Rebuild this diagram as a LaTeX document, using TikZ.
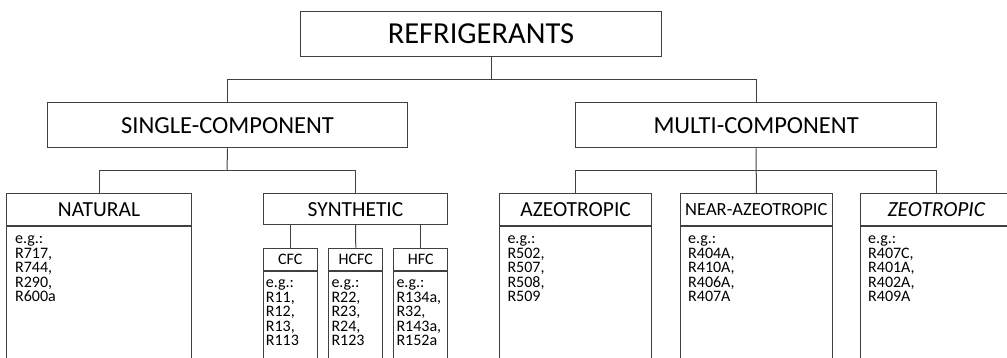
\documentclass[tikz,border=0pt]{standalone}
\usepackage{fontspec}
\setmainfont{Carlito}
\usetikzlibrary{positioning}
\definecolor{linegrey}{rgb}{0.25,0.25,0.25}
\tikzset{
  box/.style={draw=linegrey, line width=1pt, inner sep=0pt, anchor=north west},
  link/.style={draw=linegrey, line width=1pt},
  listtext/.style={anchor=north west, inner sep=0pt, align=left, font=\fontsize{16}{14.5}\selectfont},
  head/.style={box, minimum width=151.7pt, minimum height=31.7pt, font=\fontsize{21.5}{22}\selectfont},
  subhead/.style={box, minimum width=54pt, minimum height=22.3pt, font=\fontsize{16}{16}\selectfont},
}

\begin{document}
\begin{tikzpicture}[x=1pt,y=-1pt]

\path[use as bounding box, clip] (0,0) rectangle (1007,357);
% top
\node [box, minimum width=361pt, minimum height=45.3pt, font=\fontsize{30.5}{31}\selectfont] (root) at (300,10.7) {REFRIGERANTS};
% second row
\node [box, minimum width=360.6pt, minimum height=45pt, font=\fontsize{24.5}{25}\selectfont] (single) at (46.7,102.3) {SINGLE-COMPONENT};
\node [box, minimum width=360.6pt, minimum height=45pt, font=\fontsize{24.5}{25}\selectfont] (multi) at (575.3,102.3) {MULTI-COMPONENT};
% third row
\node [head, minimum width=185pt] (nat) at (6,193.3) {NATURAL};
\node [head, minimum width=184.6pt, minimum height=30.7pt] (syn) at (262.7,193.3) {SYNTHETIC};
\node [head] (azeo) at (499.3,193.3) {AZEOTROPIC};
\node [head, font=\fontsize{18.5}{19}\selectfont] (near) at (680,193.3) {NEAR-AZEOTROPIC};
\node [head, font=\fontsize{21.5}{22}\selectfont\itshape] (zeo) at (860,193.3) {ZEOTROPIC};
% bodies
\node [box, minimum width=185pt, minimum height=150pt, below=0pt of nat] (natbody) {};
\node [box, minimum width=151.7pt, minimum height=150pt, below=0pt of azeo] (azeobody) {};
\node [box, minimum width=151.7pt, minimum height=150pt, below=0pt of near] (nearbody) {};
\node [box, minimum width=151.7pt, minimum height=150pt, below=0pt of zeo] (zeobody) {};
\node [listtext] (natlist) at ([xshift=9pt,yshift=-10pt]natbody.north west) {e.g.:\\R717,\\R744,\\R290,\\R600a};
\node [listtext] (azeolist) at ([xshift=8pt,yshift=-10pt]azeobody.north west) {e.g.:\\R502,\\R507,\\R508,\\R509};
\node [listtext] (nearlist) at ([xshift=8pt,yshift=-10pt]nearbody.north west) {e.g.:\\R404A,\\R410A,\\R406A,\\R407A};
\node [listtext] (zeolist) at ([xshift=8pt,yshift=-10pt]zeobody.north west) {e.g.:\\R407C,\\R401A,\\R402A,\\R409A};
% synthetic groups
\node [subhead] (cfc) at (262.7,247.7) {CFC};
\node [subhead] (hcfc) at (328.3,247.7) {HCFC};
\node [subhead] (hfc) at (393.3,247.7) {HFC};
\node [box, minimum width=54pt, minimum height=120pt, below=0pt of cfc] (cfcbody) {};
\node [box, minimum width=54pt, minimum height=120pt, below=0pt of hcfc] (hcfcbody) {};
\node [box, minimum width=54pt, minimum height=120pt, below=0pt of hfc] (hfcbody) {};
\node [listtext] (cfclist) at ([xshift=3pt,yshift=-9pt]cfcbody.north west) {e.g.:\\R11,\\R12,\\R13,\\R113};
\node [listtext] (hcfclist) at ([xshift=3pt,yshift=-9pt]hcfcbody.north west) {e.g.:\\R22,\\R23,\\R24,\\R123};
\node [listtext] (hfclist) at ([xshift=3pt,yshift=-9pt]hfcbody.north west) {e.g.:\\R134a,\\R32,\\R143a,\\R152a};
% lines
\coordinate (split1) at (491,79.3);
\coordinate (split2) at (227,170.7);
\coordinate (split3) at (755.7,170.7);
\draw [link] (split1 |- root.south) -- (split1);
\draw [link] (single.north) |- (split1) -| (multi.north);
\draw [link] (single.south) -- (split2);
\draw [link] (nat.north) |- (split2) -| (syn.north);
\draw [link] (multi.south) -- (near.north);
\draw [link] (azeo.north) |- (split3) -| (zeo.north);
\draw [link] (syn.south -| cfc.north) -- (cfc.north);
\draw [link] (syn.south) -- (hcfc.north);
\draw [link] (syn.south -| hfc.north) -- (hfc.north);

\end{tikzpicture}
\end{document}
